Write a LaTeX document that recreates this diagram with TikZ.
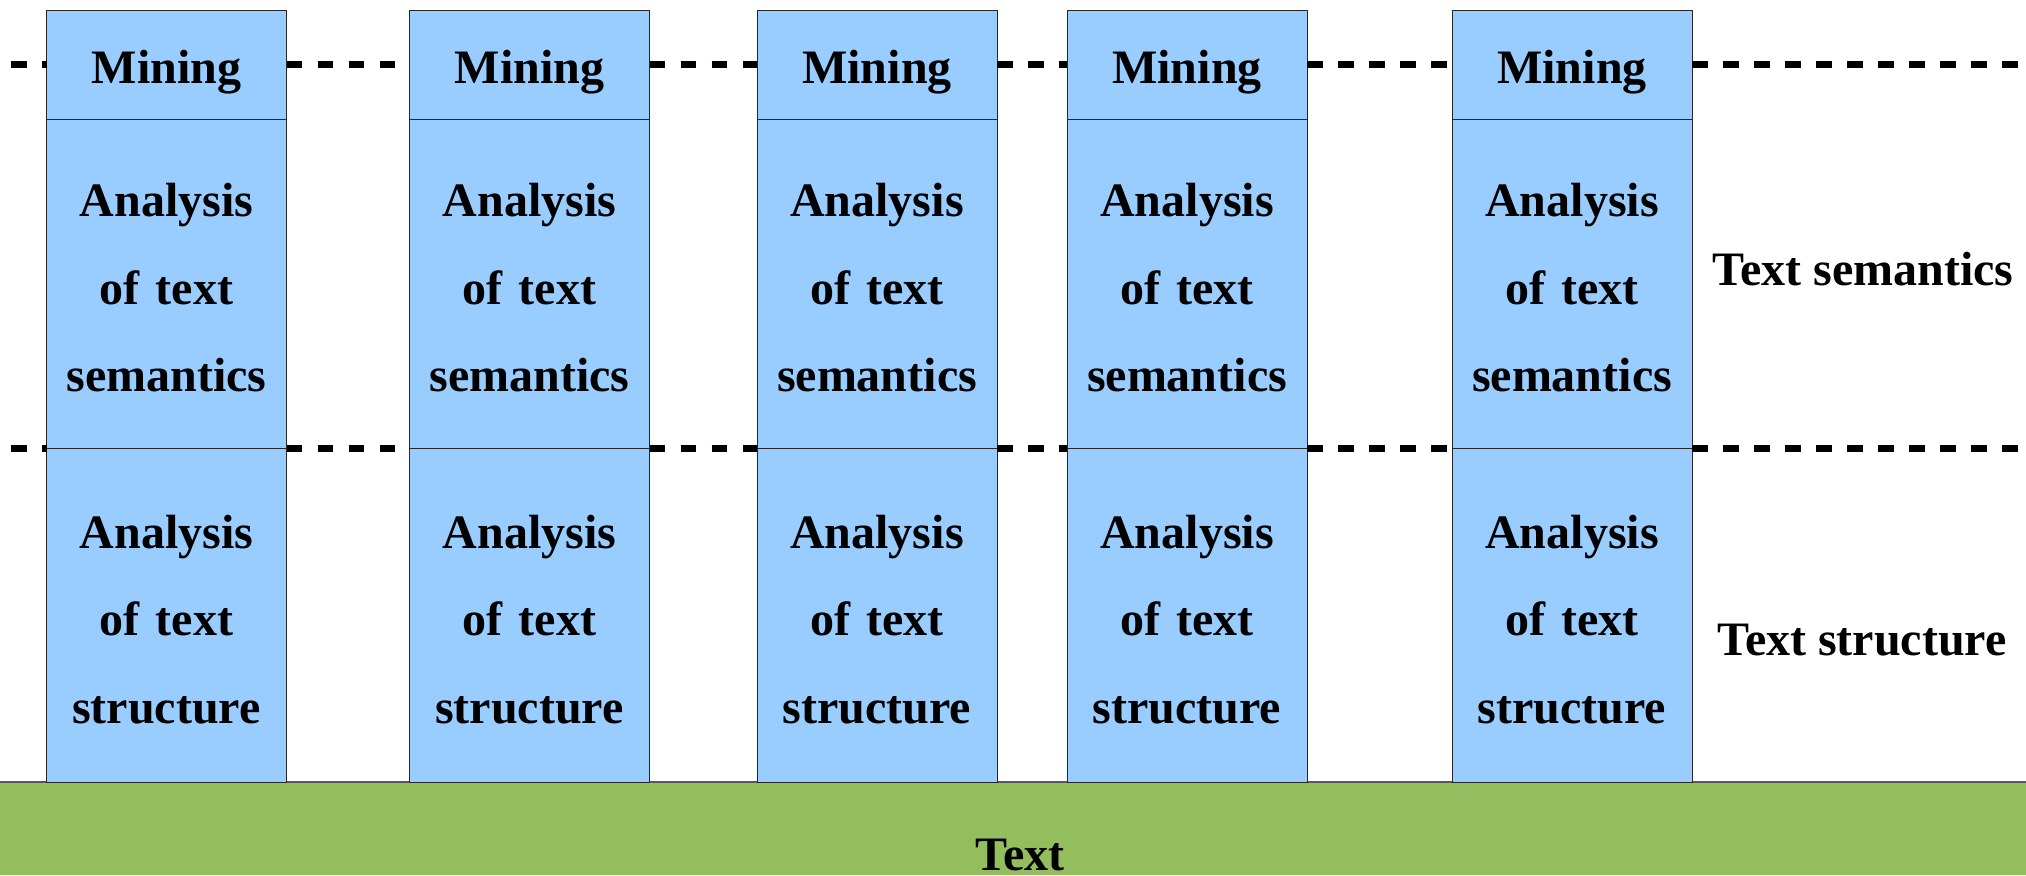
\documentclass[tikz,border=0pt]{standalone}
\usepackage{fontspec}
\setmainfont{Liberation Serif}
\usetikzlibrary{positioning}

\definecolor{boxblue}{RGB}{153,204,255}
\definecolor{basegreen}{RGB}{148,189,94}

\tikzset{
  layer/.style={draw=black!85, fill=boxblue, line width=0.5pt, outer sep=0pt, inner sep=0pt,
    minimum width=120pt, text width=118pt, align=center, text height=21pt,
    font=\fontsize{24}{43.75}\selectfont\bfseries},
  sepline/.style={line width=3.5pt, dash pattern=on 7.75pt off 7.75pt},
  sidelabel/.style={anchor=base, inner sep=0pt, font=\fontsize{24}{28}\selectfont\bfseries}
}

\begin{document}
\begin{tikzpicture}[x=0.5pt,y=-0.5pt]

		\useasboundingbox (0,0) rectangle (2026,875);
		
		\coordinate (lft) at (11,0);
		\coordinate (rgt) at (2026,0);
		
		% base layer
		\fill[basegreen] (0,782) rectangle (2026,875);
		\draw[black!65, line width=0.75pt] (0,782) -- (2026,782);
		\node[sidelabel] (baselbl) at (1020,870) {Text};
		
		% the five stacks
		\foreach \xc [count=\i] in {166.5,529.5,877,1187,1572} {
			\node[layer, minimum height=54.15pt, text height=19pt, text depth=0pt, anchor=north] (mine\i) at (\xc,10.7) {Mining};
			\node[layer, minimum height=164.5pt, below=0pt of mine\i] (sem\i) {Analysis\\of text\\semantics};
			\node[layer, minimum height=167pt, below=0pt of sem\i] (struc\i) {Analysis\\of text\\structure};
		}
		
		% dashed separators
		\draw[sepline] (mine1.west -| lft) -- (mine1.west);
		\draw[sepline] (sem1.south west -| lft) -- (sem1.south west);
		\foreach \i/\j in {1/2,2/3,3/4,4/5} {
			\draw[sepline] (mine\i.east) -- (mine\j.west);
			\draw[sepline] (sem\i.south east) -- (sem\j.south west);
		}
		\draw[sepline] (mine5.east) -- (mine5.east -| rgt);
		\draw[sepline] (sem5.south east) -- (sem5.south east -| rgt);
		
		\node[sidelabel] (semlbl) at (1863,285) {Text semantics};
		\node[sidelabel] (struclbl) at (1862,655) {Text structure};
		
\end{tikzpicture}
\end{document}
